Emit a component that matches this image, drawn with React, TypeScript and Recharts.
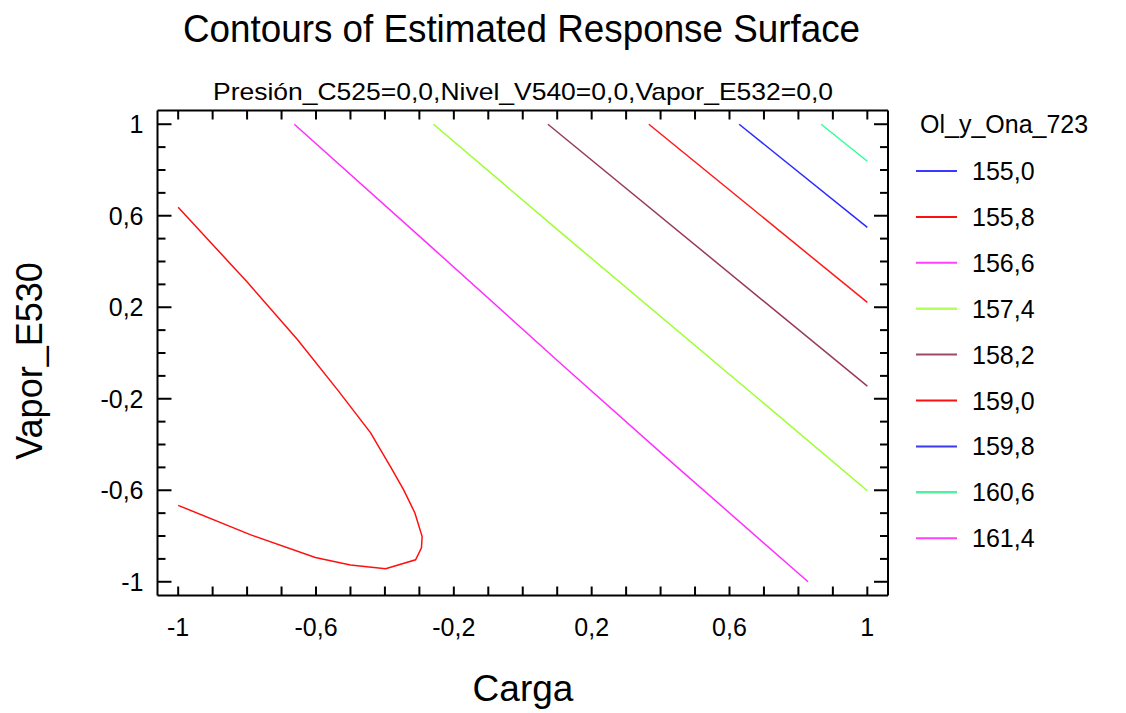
import { ComposedChart, Line, XAxis, YAxis } from "recharts";

const FONT = "Arial, 'Liberation Sans', Helvetica, sans-serif";

// axis ticks every 0.1, labels every 0.4
const axisTicks = [
  -1, -0.9, -0.8, -0.7, -0.6, -0.5, -0.4, -0.3, -0.2, -0.1, 0, 0.1, 0.2, 0.3, 0.4, 0.5, 0.6, 0.7, 0.8, 0.9, 1,
];
const majorTicks = [-1, -0.6, -0.2, 0.2, 0.6, 1];
const majorLabels = ["-1", "-0,6", "-0,2", "0,2", "0,6", "1"];

const levels = ["155,0", "155,8", "156,6", "157,4", "158,2", "159,0", "159,8", "160,6", "161,4"];
const levelColors = ["#3a3aff", "#ff1010", "#ff40ff", "#b4ff5a", "#a04868", "#ff1010", "#3a3af0", "#50f0a0", "#ff40ff"];

// contour lines (Carga, Vapor_E530)
const c155_8 = [
  { x: -1, y: 0.637 },
  { x: -0.799, y: 0.309 },
  { x: -0.654, y: 0.059 },
  { x: -0.538, y: -0.16 },
  { x: -0.442, y: -0.348 },
  { x: -0.384, y: -0.497 },
  { x: -0.346, y: -0.597 },
  { x: -0.313, y: -0.699 },
  { x: -0.292, y: -0.802 },
  { x: -0.294, y: -0.852 },
  { x: -0.311, y: -0.904 },
  { x: -0.398, y: -0.943 },
  { x: -0.5, y: -0.927 },
  { x: -0.602, y: -0.894 },
  { x: -0.791, y: -0.794 },
  { x: -1, y: -0.666 },
];
const c156_6 = [
  { x: -0.663, y: 1 },
  { x: -0.267, y: 0.466 },
  { x: 0.11, y: -0.046 },
  { x: 0.43, y: -0.475 },
  { x: 0.828, y: -1 },
];
const c157_4 = [
  { x: -0.259, y: 1 },
  { x: 0.11, y: 0.527 },
  { x: 0.683, y: -0.199 },
  { x: 1, y: -0.602 },
];
const c158_2 = [
  { x: 0.073, y: 1 },
  { x: 1, y: -0.145 },
];
const c159_0 = [
  { x: 0.366, y: 1 },
  { x: 1, y: 0.221 },
];
const c159_8 = [
  { x: 0.628, y: 1 },
  { x: 1, y: 0.549 },
];
const c160_6 = [
  { x: 0.866, y: 1 },
  { x: 1, y: 0.838 },
];

const contours = [
  { key: "155.8", data: c155_8, color: "#ff1010" },
  { key: "156.6", data: c156_6, color: "#ff30ff" },
  { key: "157.4", data: c157_4, color: "#9cff30" },
  { key: "158.2", data: c158_2, color: "#983a5c" },
  { key: "159.0", data: c159_0, color: "#ff1818" },
  { key: "159.8", data: c159_8, color: "#2a2aff" },
  { key: "160.6", data: c160_6, color: "#30ff98" },
];

const DOMAIN: [number, number] = [-1.06, 1.06];

function BottomTick(props: any) {
  const { x, y, payload } = props;
  const i = majorTicks.indexOf(payload.value);
  return (
    <g>
      <line x1={x} y1={y} x2={x} y2={y - 9} stroke="#000" strokeWidth={2} />
      {i >= 0 && (
        <text x={x} y={y + 40} textAnchor="middle" fontSize={25} fontFamily={FONT} fill="#000">
          {majorLabels[i]}
        </text>
      )}
    </g>
  );
}

function TopTick(props: any) {
  const { x, y } = props;
  return <line x1={x} y1={y} x2={x} y2={y + 9} stroke="#000" strokeWidth={2} />;
}

function LeftTick(props: any) {
  const { x, y, payload } = props;
  const i = majorTicks.indexOf(payload.value);
  return (
    <g>
      <line x1={x} y1={y} x2={x + (i >= 0 ? 14 : 8)} y2={y} stroke="#000" strokeWidth={2} />
      {i >= 0 && (
        <text x={x - 14} y={y} dy="0.36em" textAnchor="end" fontSize={25} fontFamily={FONT} fill="#000">
          {majorLabels[i]}
        </text>
      )}
    </g>
  );
}

function RightTick(props: any) {
  const { x, y, payload } = props;
  const major = majorTicks.indexOf(payload.value) >= 0;
  return <line x1={x} y1={y} x2={x - (major ? 14 : 8)} y2={y} stroke="#000" strokeWidth={2} />;
}

export default function App() {
  const axisLine = { stroke: "#000", strokeWidth: 2 };
  return (
    <div style={{ position: "relative", width: 1110, height: 705, fontFamily: FONT }}>
      <ComposedChart
        width={1110}
        height={700}
        margin={{ top: 101.5, right: 229, bottom: 111.5, left: 148.5 }}
      >
        <XAxis
          dataKey="x"
          type="number"
          domain={DOMAIN}
          ticks={axisTicks}
          interval={0}
          height={1}
          tickSize={0}
          tickMargin={0}
          axisLine={axisLine}
          tick={<BottomTick />}
          allowDataOverflow
        />
        <XAxis
          xAxisId="top"
          orientation="top"
          dataKey="x"
          type="number"
          domain={DOMAIN}
          ticks={axisTicks}
          interval={0}
          height={1}
          tickSize={0}
          tickMargin={0}
          axisLine={axisLine}
          tick={<TopTick />}
          allowDataOverflow
        />
        <YAxis
          dataKey="y"
          type="number"
          domain={DOMAIN}
          ticks={axisTicks}
          interval={0}
          width={1}
          tickSize={0}
          tickMargin={0}
          axisLine={axisLine}
          tick={<LeftTick />}
          allowDataOverflow
        />
        <YAxis
          yAxisId="right"
          orientation="right"
          dataKey="y"
          type="number"
          domain={DOMAIN}
          ticks={axisTicks}
          interval={0}
          width={1}
          tickSize={0}
          tickMargin={0}
          axisLine={axisLine}
          tick={<RightTick />}
          allowDataOverflow
        />
        {contours.map((c) => (
          <Line
            key={c.key}
            data={c.data}
            dataKey="y"
            type="linear"
            stroke={c.color}
            strokeWidth={1.5}
            dot={false}
            activeDot={false}
            isAnimationActive={false}
          />
        ))}
      </ComposedChart>

      <svg
        width={1110}
        height={705}
        style={{ position: "absolute", left: 0, top: 0, pointerEvents: "none" }}
      >
        <text x={513.5} y={34} textAnchor="middle" fontSize={38} textLength={677} lengthAdjust="spacingAndGlyphs" fill="#000">
          Contours of Estimated Response Surface
        </text>
        <text x={515} y={92} textAnchor="middle" fontSize={24} textLength={620} lengthAdjust="spacingAndGlyphs" fill="#000">
          Presión_C525=0,0,Nivel_V540=0,0,Vapor_E532=0,0
        </text>
        <text x={515} y={693} textAnchor="middle" fontSize={37} fill="#000">
          Carga
        </text>
        <text x={34} y={353} textAnchor="middle" fontSize={36} fill="#000" transform="rotate(-90 34 353)">
          Vapor_E530
        </text>

        <text x={912} y={125} fontSize={25} fill="#000">
          Ol_y_Ona_723
        </text>
        {levels.map((lv, i) => {
          const y = 163 + i * 45.9;
          return (
            <g key={lv}>
              <line x1={908} y1={y} x2={949} y2={y} stroke={levelColors[i]} strokeWidth={i === 3 || i === 7 ? 2.5 : 2} />
              <text x={964} y={y} dy="0.36em" fontSize={25} fill="#000">
                {lv}
              </text>
            </g>
          );
        })}
      </svg>
    </div>
  );
}
